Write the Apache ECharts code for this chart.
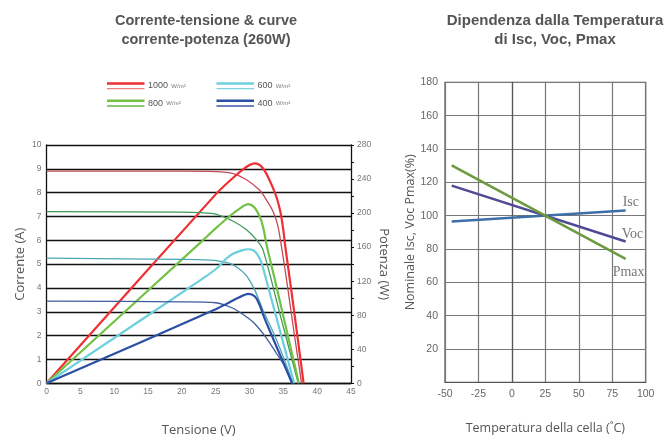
<!DOCTYPE html>
<html><head><meta charset="utf-8">
<script src="https://cdn.jsdelivr.net/npm/echarts@6.0.0/dist/echarts.min.js"></script>
<style>html,body{margin:0;padding:0;background:#fff}#c{width:664px;height:443px}</style>
</head><body><div id="c"></div>
<script>
// ---- Left chart: I-V and P-V curves (voltage V, value) ----
const iv1000 = [[0,8.9],[20,8.9],[25,8.88],[27.6,8.8],[29.5,8.55],[31.5,8.1],[32.5,7.7],[33.5,7.2],[34.2,6.6],[34.8,5.6],[35.5,4.3],[36.6,2.1],[37.7,0]];
const pv1000 = [[0,0],[25,222],[27.5,241],[29,251],[30,256.5],[30.8,258.5],[31.6,256],[32.3,249],[33,238],[33.6,227],[34.1,216],[34.6,200],[35.0,180],[35.3,160],[36.2,108],[38,0]];
const iv800 = [[0,7.2],[20,7.18],[22.7,7.16],[25,7.1],[27.6,6.8],[29.6,6.43],[31.1,6.0],[32,5.6],[34.6,2.8],[37.2,0]];
const pv800 = [[0,0],[22.7,165],[25,182],[27,196],[28.5,205],[29.8,210.5],[30.7,207],[31.5,196],[32,184],[32.6,160],[33.8,120],[37.3,0]];
const iv600 = [[0,5.25],[20,5.2],[24.2,5.17],[25.5,5.13],[27.1,5.03],[28.5,4.8],[29.6,4.5],[30.8,3.9],[32,3.07],[34,1.82],[36.4,0]];
const pv600 = [[0,0],[22.7,121],[25,134],[26.5,146],[27.5,152],[29,156.5],[29.8,157.5],[30.6,156],[31.2,151],[31.8,141],[33,106],[36.6,0]];
const iv400 = [[0,3.45],[20,3.42],[25,3.38],[27.3,3.18],[29,2.9],[30.6,2.55],[32.5,1.9],[34,1.25],[35,0.82],[36.3,0]];
const pv400 = [[0,0],[25,87],[27,95],[28.5,101],[29.8,105],[30.8,102],[31.5,92],[32,81],[32.5,71],[34,43],[36.3,0]];
const irradianceLabels = ['1000','800','600','400'];

// ---- Right chart: temperature dependence (temperature, %) ----
const iscLine = [[-45,96.5],[85,103.1]];
const vocLine = [[-45,118],[85,84.5]];
const pmaxLine = [[-45,130.2],[85,74]];
const tempTicks = {min:-50, max:100, interval:25};
const pctTicks = {min:0, max:180, interval:20};

const colPV = ['#ef2f33','#72c044','#6dcfdc','#2b4fa5'];
const colIV = ['#c24b55','#3f9a5b','#4ba6b6','#3e5c9c'];
const colLegThin = ['#f07d80','#62b94a','#7fd3de','#3e56a8'];

const chart = echarts.init(document.getElementById('c'), null, {renderer:'canvas'});
const sans = 'Liberation Sans, Arial, sans-serif';
const nameFont = 'Open Sans, Noto Sans, sans-serif';

function lineS(data, color, width, xi, yi){
  return {type:'line', data, xAxisIndex:xi, yAxisIndex:yi, symbol:'none', smooth:0.3,
    lineStyle:{color, width}, itemStyle:{color}, silent:true, animation:false};
}

const ivs = [iv1000, iv800, iv600, iv400];
const pvs = [pv1000, pv800, pv600, pv400];
const series = [];
for (let i=0;i<4;i++){
  series.push(lineS(ivs[i], colIV[i], 1.3, 0, 0));
  series.push(lineS(pvs[i], colPV[i], 2.2, 0, 1));
}
const tempSeries = [['Isc',iscLine,'#3d6ea8',[-11,-8]],['Voc',vocLine,'#4f4a94',[-12,-7]],['Pmax',pmaxLine,'#6b9b3e',[-21,13]]];
tempSeries.forEach(([nm, d, c, off])=>{
  series.push({type:'line', name:nm, data:d, xAxisIndex:1, yAxisIndex:2, symbol:'none',
    lineStyle:{color:c, width:2.5}, itemStyle:{color:c}, animation:false, silent:true,
    endLabel:{show:true, formatter:nm, offset:off, color:'#777', fontFamily:'Liberation Serif, DejaVu Serif, serif', fontSize:14}});
});

// legend graphics
const legPos = [[107,83.5,148],[107,100.8,148],[216.5,83.5,257.5],[216.5,100.8,257.5]];
const graphic = [];
legPos.forEach(([x,y,tx],i)=>{
  graphic.push({type:'line', shape:{x1:x,y1:y,x2:x+37.5,y2:y}, style:{stroke:colPV[i], lineWidth:2.6}, silent:true});
  graphic.push({type:'line', shape:{x1:x,y1:y+5.2,x2:x+37.5,y2:y+5.2}, style:{stroke:colLegThin[i], lineWidth:1.3}, silent:true});
  graphic.push({type:'text', x:tx, y:y+2.5, style:{text:'{a|'+irradianceLabels[i]+'} {b|W/m²}', verticalAlign:'middle',
    rich:{a:{fontSize:9, fontFamily:sans, fill:'#555'}, b:{fontSize:6, fontFamily:sans, fill:'#777'}}}, silent:true});
});

const option = {
  backgroundColor:'#fff',
  animation:false,
  title:[
    {text:'Corrente-tensione & curve\ncorrente-potenza (260W)', left:201, top:6, textAlign:'center',
     textStyle:{fontFamily:sans, fontWeight:'bold', fontSize:14.5, color:'#555', lineHeight:19}},
    {text:'Dipendenza dalla Temperatura\ndi Isc, Voc, Pmax', left:550, top:6, textAlign:'center',
     textStyle:{fontFamily:sans, fontWeight:'bold', fontSize:15, color:'#555', lineHeight:19}}
  ],
  grid:[
    {left:46.5, right:313, top:145, bottom:59.7},
    {left:445, right:18.3, top:82.3, bottom:60.7, show:true, borderColor:'#555', borderWidth:1.2}
  ],
  xAxis:[
    {type:'value', gridIndex:0, min:0, max:45, interval:5,
     name:'Tensione (V)', nameLocation:'middle', nameGap:40,
     nameTextStyle:{fontFamily:nameFont, fontSize:13, color:'#555'},
     axisLine:{lineStyle:{color:'#111', width:1.3}}, axisTick:{show:false},
     axisLabel:{fontFamily:sans, fontSize:8.5, color:'#777', margin:4}, splitLine:{show:false}},
    {type:'value', gridIndex:1, min:tempTicks.min, max:tempTicks.max, interval:tempTicks.interval,
     name:'Temperatura della cella (˚C)', nameLocation:'middle', nameGap:40,
     nameTextStyle:{fontFamily:nameFont, fontSize:12.5, color:'#555'},
     axisLine:{lineStyle:{color:'#555', width:1.2}}, axisTick:{show:false},
     axisLabel:{fontFamily:sans, fontSize:10.5, color:'#666', margin:6},
     splitLine:{show:true, lineStyle:{color:'#777', width:1.2}}}
  ],
  yAxis:[
    {type:'value', gridIndex:0, min:0, max:10, interval:1, position:'left',
     name:'Corrente (A)', nameLocation:'middle', nameGap:20,
     nameTextStyle:{fontFamily:nameFont, fontSize:13, color:'#555'},
     axisLine:{show:true, lineStyle:{color:'#111', width:1.3}}, axisTick:{show:false},
     axisLabel:{fontFamily:sans, fontSize:8.5, color:'#777', margin:5},
     splitLine:{show:true, lineStyle:{color:'#111', width:1.3}}},
    {type:'value', gridIndex:0, min:0, max:280, interval:20, position:'right',
     name:'Potenza (W)', nameLocation:'middle', nameGap:26, nameRotate:-90,
     nameTextStyle:{fontFamily:nameFont, fontSize:13, color:'#555'},
     axisLine:{show:true, lineStyle:{color:'#111', width:1.3}},
     axisTick:{show:true, inside:false, length:3, lineStyle:{color:'#111', width:1}},
     axisLabel:{fontFamily:sans, fontSize:8.5, color:'#777', margin:6,
       formatter:v=> (v%40===0 ? String(v) : '')},
     splitLine:{show:false}},
    {type:'value', gridIndex:1, min:pctTicks.min, max:pctTicks.max, interval:pctTicks.interval,
     name:'Nominale Isc, Voc Pmax(%)', nameLocation:'middle', nameGap:28,
     nameTextStyle:{fontFamily:nameFont, fontSize:12.5, color:'#555'},
     axisLine:{show:true, lineStyle:{color:'#555', width:1.2}}, axisTick:{show:false},
     axisLabel:{fontFamily:sans, fontSize:10.5, color:'#666', margin:7, formatter:v=> (v===0?'':String(v))},
     splitLine:{show:true, lineStyle:{color:'#777', width:1.2}}}
  ],
  graphic,
  series
};
chart.setOption(option);
</script></body></html>
